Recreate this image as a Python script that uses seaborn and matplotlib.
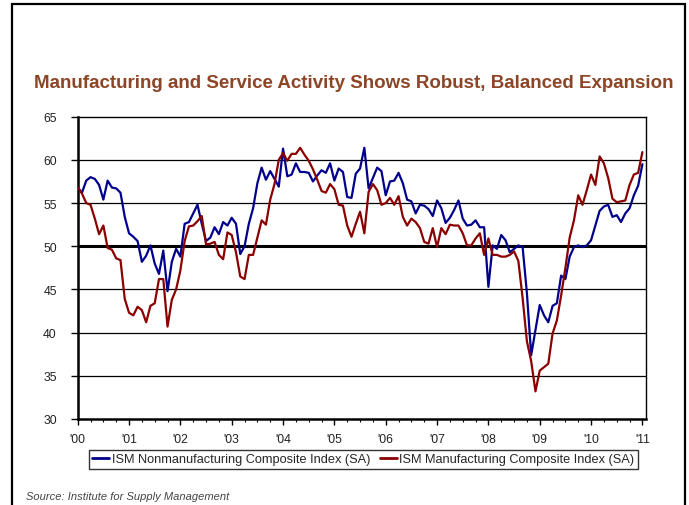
import numpy as np
import pandas as pd
import matplotlib
matplotlib.use("Agg")
import matplotlib.pyplot as plt
import seaborn as sns
from matplotlib.patches import Rectangle
from matplotlib.ticker import FixedLocator

# Monthly index readings, Jan 2000 - Jan 2011
first_month = "2000-01"
nonmfg = [
    56.8, 56.2, 57.6, 58.0, 57.8, 57.1, 55.4, 57.6, 56.8, 56.7, 56.2, 53.4,
    51.5, 51.1, 50.6, 48.2, 48.9, 50.1, 48.0, 46.8, 49.5, 44.8, 48.2, 49.7,
    48.8, 52.6, 52.8, 53.8, 54.8, 52.6, 50.6, 51.0, 52.2, 51.4, 52.8, 52.4,
    53.3, 52.6, 49.1, 50.0, 52.6, 54.4, 57.3, 59.1, 57.7, 58.7, 57.8, 56.9,
    61.3, 58.1, 58.3, 59.6, 58.6, 58.6, 58.5, 57.5, 58.2, 58.8, 58.5, 59.6,
    57.6, 59.0, 58.6, 55.7, 55.6, 58.4, 59.0, 61.4, 56.7, 57.9, 59.1, 58.7,
    55.9, 57.5, 57.6, 58.5, 57.3, 55.4, 55.2, 53.8, 54.8, 54.7, 54.3, 53.5,
    55.3, 54.4, 52.7, 53.3, 54.2, 55.3, 53.2, 52.4, 52.5, 53.0, 52.2, 52.2,
    45.3, 50.1, 49.7, 51.3, 50.7, 49.3, 49.7, 50.1, 49.9, 44.6, 37.4, 40.3,
    43.2, 42.0, 41.2, 43.1, 43.4, 46.6, 46.2, 48.8, 49.9, 50.1, 49.9, 50.1,
    50.7, 52.4, 54.1, 54.6, 54.8, 53.4, 53.6, 52.8, 53.8, 54.4, 55.9, 57.0,
    59.5,
]
mfg = [
    56.8, 56.1, 55.0, 54.8, 53.2, 51.4, 52.4, 49.8, 49.6, 48.6, 48.4, 43.9,
    42.3, 42.0, 43.0, 42.6, 41.2, 43.1, 43.4, 46.2, 46.2, 40.7, 43.8, 45.0,
    47.2, 50.6, 52.3, 52.4, 52.9, 53.5, 50.2, 50.3, 50.5, 49.0, 48.5, 51.6,
    51.3, 49.3, 46.5, 46.2, 49.0, 49.0, 51.0, 53.0, 52.5, 55.4, 57.2, 60.0,
    60.8, 59.9, 60.7, 60.7, 61.4, 60.6, 59.9, 58.9, 57.7, 56.4, 56.2, 57.2,
    56.6, 54.8, 54.7, 52.4, 51.1, 52.6, 54.0, 51.5, 56.3, 57.2, 56.5, 54.8,
    55.0, 55.6, 54.8, 55.8, 53.4, 52.4, 53.2, 52.8, 52.1, 50.5, 50.3, 52.1,
    49.9, 52.1, 51.4, 52.5, 52.4, 52.4, 51.5, 50.1, 50.1, 50.9, 51.5, 49.0,
    50.9, 49.0, 49.0, 48.8, 48.8, 49.0, 49.4, 48.3, 44.0, 39.0, 36.7, 33.2,
    35.6, 36.0, 36.4, 39.9, 41.4, 44.3, 47.5, 51.0, 53.0, 55.9, 54.8, 56.5,
    58.3, 57.1, 60.4, 59.6, 57.9, 55.5, 55.1, 55.2, 55.3, 57.1, 58.3, 58.5,
    60.9,
]
series_names = [
    "ISM Nonmanufacturing Composite Index (SA)",
    "ISM Manufacturing Composite Index (SA)",
]
series_colors = ["#00008C", "#8B0000"]
year_ticks = list(range(2000, 2012))
year_labels = ["'00", "'01", "'02", "'03", "'04", "'05", "'06", "'07", "'08", "'09", "'10", "'11"]
y_ticks = [30, 35, 40, 45, 50, 55, 60, 65]

title_text = "Manufacturing and Service Activity Shows Robust, Balanced Expansion"
source_text = "Source: Institute for Supply Management"

sns.set_theme(style="white")
plt.rcParams["font.family"] = ["Liberation Sans", "DejaVu Sans"]

months = pd.date_range(first_month, periods=len(mfg), freq="MS")
t = months.year + (months.month - 1) / 12.0
wide = pd.DataFrame({"t": t, series_names[0]: nonmfg, series_names[1]: mfg})
long = wide.melt(id_vars="t", var_name="series", value_name="value")

W, H = 689, 506
fig = plt.figure(figsize=(W / 100, H / 100), dpi=100)
ax = fig.add_axes([77.7 / W, 1 - 420 / H, (646 - 77.7) / W, (420 - 117.7) / H])

# horizontal reference lines
for yv in y_ticks[1:-1]:
    if yv != 50:
        ax.axhline(yv, color="black", lw=0.9, zorder=1)
ax.axhline(50, color="black", lw=2.2, zorder=1)

sns.lineplot(
    data=long, x="t", y="value", hue="series",
    hue_order=series_names,
    palette=dict(zip(series_names, series_colors)),
    linewidth=1.6, ax=ax, zorder=3,
)

ax.set_xlim(2000, 2011.07)
ax.set_ylim(30, 65)
ax.set_xlabel("")
ax.set_ylabel("")
ax.xaxis.set_major_locator(FixedLocator(year_ticks))
ax.set_xticklabels(year_labels)
ax.xaxis.set_minor_locator(FixedLocator([y + q / 4 for y in range(2000, 2011) for q in (1, 2, 3)]))
ax.set_yticks(y_ticks)
ax.set_yticklabels([str(v) for v in y_ticks])

ax.tick_params(axis="y", which="major", direction="out", length=5, width=1,
               color="black", pad=10, labelsize=8.8, labelcolor="#222222", left=True)
ax.tick_params(axis="x", which="major", direction="out", length=4, width=1,
               color="black", pad=6, labelsize=8.8, labelcolor="#222222", bottom=True)
ax.tick_params(axis="x", which="minor", direction="out", length=2.5, width=0.8,
               color="black", bottom=True)

for side, lw in (("left", 1.8), ("bottom", 1.8), ("top", 1.0), ("right", 1.0)):
    ax.spines[side].set_color("black")
    ax.spines[side].set_linewidth(lw)

sns.move_legend(
    ax, "center",
    bbox_to_anchor=(363.5 / W, 1 - 460.5 / H), bbox_transform=fig.transFigure,
    ncol=2, title=None, frameon=True, fancybox=False,
    fontsize=9.2, handlelength=1.3, handletextpad=0.2, columnspacing=0.8,
    borderpad=0.25, borderaxespad=0,
)
leg = ax.get_legend()
leg.get_frame().set_edgecolor("black")
leg.get_frame().set_linewidth(1.0)
for line in leg.get_lines():
    line.set_linewidth(2.0)

fig.text(354 / W, 1 - 84 / H, title_text, ha="center", va="center",
         fontsize=13.5, fontweight="bold", color="#8C4526")
fig.text(26 / W, 1 - 497 / H, source_text, ha="left", va="center",
         fontsize=8, style="italic", color="#444444")

fig.add_artist(Rectangle((12 / W, -0.05), (685 - 12) / W, 1.05 - 5 / H,
                         transform=fig.transFigure, fill=False,
                         edgecolor="black", linewidth=1.6))

fig.savefig("out.png", dpi=100)
